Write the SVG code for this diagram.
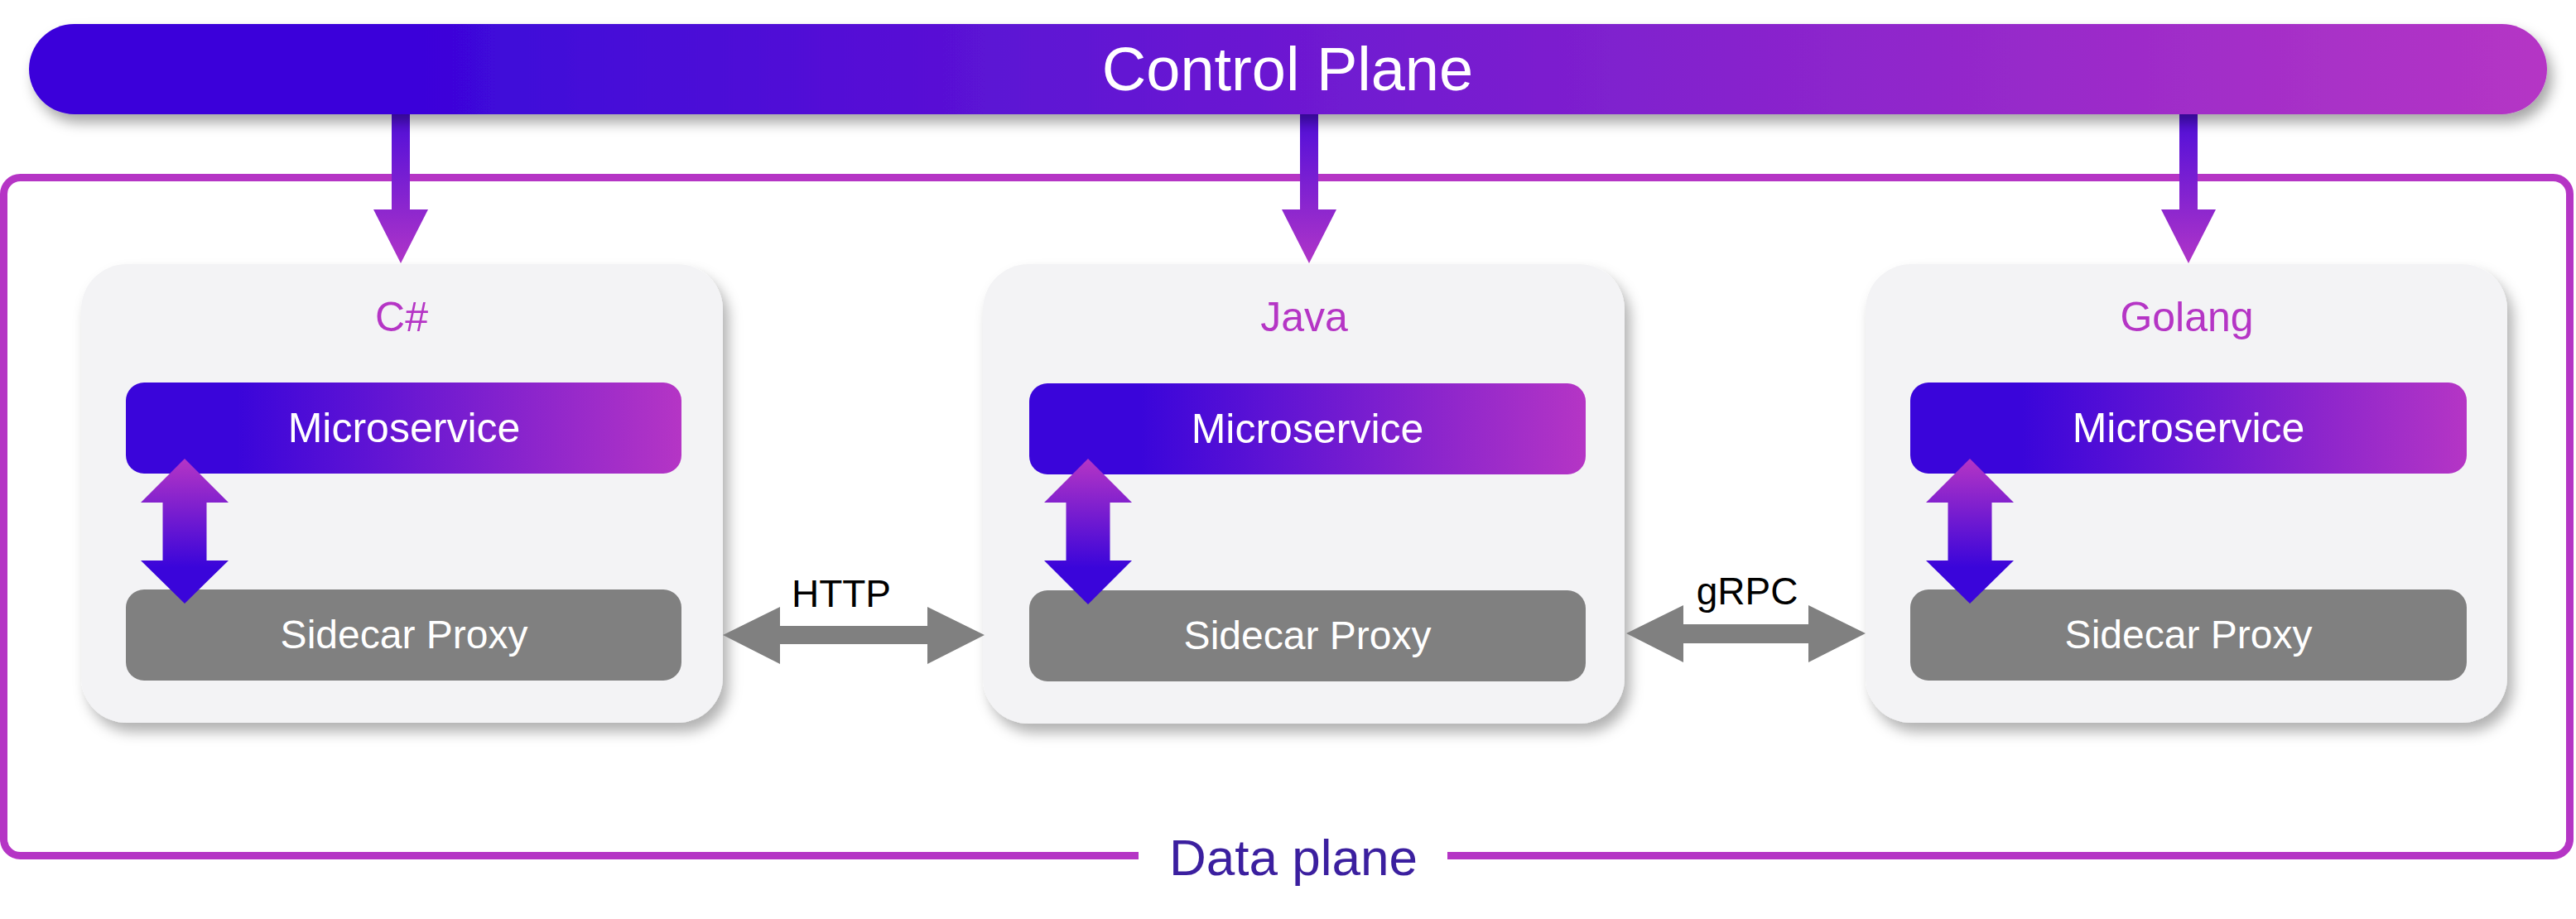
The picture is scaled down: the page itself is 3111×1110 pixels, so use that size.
<svg xmlns="http://www.w3.org/2000/svg" width="3111" height="1110" viewBox="0 0 3111 1110">
  <defs>
    <linearGradient id="barGrad" x1="0" y1="0" x2="1" y2="0">
      <stop offset="0.15" stop-color="#3A05DA"/>
      <stop offset="1" stop-color="#B535C5"/>
    </linearGradient>
    <linearGradient id="msGrad" x1="0" y1="0" x2="1" y2="0">
      <stop offset="0.2" stop-color="#3A05DA"/>
      <stop offset="1" stop-color="#B535C5"/>
    </linearGradient>
    <linearGradient id="downGrad" x1="0" y1="0" x2="0" y2="1">
      <stop offset="0" stop-color="#4A0CDA"/>
      <stop offset="1" stop-color="#B035C8"/>
    </linearGradient>
    <linearGradient id="vGrad" x1="0" y1="0" x2="0" y2="1">
      <stop offset="0" stop-color="#B535C5"/>
      <stop offset="0.75" stop-color="#3A05DA"/>
    </linearGradient>
    <filter id="shadow" x="-10%" y="-10%" width="125%" height="130%">
      <feDropShadow dx="7" dy="11" stdDeviation="8" flood-color="#000" flood-opacity="0.3"/>
    </filter>
    <filter id="barShadow" x="-5%" y="-30%" width="110%" height="190%">
      <feDropShadow dx="6" dy="10" stdDeviation="8" flood-color="#000" flood-opacity="0.35"/>
    </filter>
  </defs>
  <style>
    .node { fill: #F3F3F5; filter: url(#shadow); }
    .ms { fill: url(#msGrad); }
    .sc { fill: #808080; }
    .title { font-family: "Liberation Sans", Arial, sans-serif; font-size: 50px; fill: #B535C5; text-anchor: middle; }
    .boxtxt { font-family: "Liberation Sans", Arial, sans-serif; fill: #FFFFFF; text-anchor: middle; }
    .lbl { font-family: "Liberation Sans", Arial, sans-serif; font-size: 46px; fill: #000000; text-anchor: middle; }
    .down { fill: url(#downGrad); }
    .vdbl { fill: url(#vGrad); }
    .hdbl { fill: #808080; }
    .border { fill: none; stroke: #B535C5; stroke-width: 9; }
  </style>

  <rect width="3111" height="1110" fill="#FFFFFF"/>

  <g id="data-plane">
    <path class="border" d="M1375,1033.5 H24.5 A20,20 0 0 1 4.5,1013.5 V234.5 A20,20 0 0 1 24.5,214.5 H3083.5 A20,20 0 0 1 3103.5,234.5 V1013.5 A20,20 0 0 1 3083.5,1033.5 H1748"/>
    <text x="1562" y="1057" font-family="Liberation Sans, Arial, sans-serif" font-size="62" fill="#3B1F9F" text-anchor="middle">Data plane</text>
  </g>

  <g id="connectors">
    <path class="down" d="M473,130 H495 V253 H517 L484,318 L451,253 H473 Z"/>
    <path class="down" d="M1570,130 H1592 V253 H1614 L1581,318 L1548,253 H1570 Z"/>
    <path class="down" d="M2632,130 H2654 V253 H2676 L2643,318 L2610,253 H2632 Z"/>
  </g>

  <g id="control-plane">
    <rect x="35" y="29" width="3041" height="109" rx="54.5" fill="url(#barGrad)" filter="url(#barShadow)"/>
    <text x="1555" y="109" class="boxtxt" font-size="74">Control Plane</text>
  </g>

  <g id="node-csharp">
    <rect class="node" x="98" y="319" width="775" height="554" rx="55"/>
    <text class="title" x="485" y="400">C#</text>
    <rect class="ms" x="152" y="462" width="671" height="110" rx="22"/>
    <text class="boxtxt" x="488" y="534" font-size="50">Microservice</text>
    <rect class="sc" x="152" y="712" width="671" height="110" rx="22"/>
    <text class="boxtxt" x="488" y="783" font-size="48">Sidecar Proxy</text>
  </g>

  <g id="node-java">
    <rect class="node" x="1187" y="319" width="775" height="555" rx="55"/>
    <text class="title" x="1575" y="400">Java</text>
    <rect class="ms" x="1243" y="463" width="672" height="110" rx="22"/>
    <text class="boxtxt" x="1579" y="535" font-size="50">Microservice</text>
    <rect class="sc" x="1243" y="713" width="672" height="110" rx="22"/>
    <text class="boxtxt" x="1579" y="784" font-size="48">Sidecar Proxy</text>
  </g>

  <g id="node-golang">
    <rect class="node" x="2253" y="319" width="775" height="554" rx="55"/>
    <text class="title" x="2641" y="400">Golang</text>
    <rect class="ms" x="2307" y="462" width="672" height="110" rx="22"/>
    <text class="boxtxt" x="2643" y="534" font-size="50">Microservice</text>
    <rect class="sc" x="2307" y="712" width="672" height="110" rx="22"/>
    <text class="boxtxt" x="2643" y="783" font-size="48">Sidecar Proxy</text>
  </g>

  <g id="links">
    <path class="vdbl" d="M223,554 L276,607 H249.5 V677 H276 L223,729 L170,677 H196.5 V607 H170 Z"/>
    <path class="vdbl" d="M1314,554 L1367,607 H1340.5 V677 H1367 L1314,730 L1261,677 H1287.5 V607 H1261 Z"/>
    <path class="vdbl" d="M2379,554 L2432,607 H2405.5 V677 H2432 L2379,729 L2326,677 H2352.5 V607 H2326 Z"/>
    <path class="hdbl" d="M873,767 L942,733 V756 H1120 V733 L1189,767 L1120,802 V778 H942 V802 Z"/>
    <text class="lbl" x="1016" y="733">HTTP</text>
    <path class="hdbl" d="M1964,765 L2033,731 V754 H2184 V731 L2253,765 L2184,800 V777 H2033 V800 Z"/>
    <text class="lbl" x="2110" y="730">gRPC</text>
  </g>
</svg>
